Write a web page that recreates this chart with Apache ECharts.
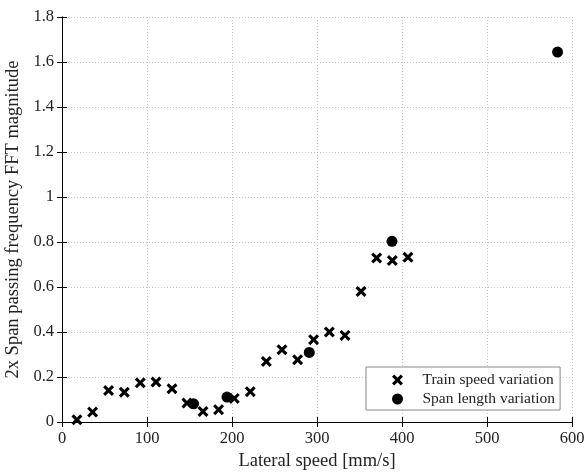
<!DOCTYPE html>
<html>
<head>
<meta charset="utf-8">
<script src="https://cdn.jsdelivr.net/npm/echarts@6/dist/echarts.min.js"></script>
<style>
  html, body { margin: 0; padding: 0; background: #fff; }
  #chart { width: 584px; height: 472px; }
</style>
</head>
<body>
<div id="chart"></div>
<script>
// Train speed variation: [lateral speed mm/s, FFT magnitude]
const trainSpeedX = [17.6, 36, 54.8, 73.3, 92.1, 110.6, 129.4, 147, 165.9, 184.2, 202.7, 221.5,
  240.4, 258.8, 277.2, 296, 314.5, 332.9, 351.8, 370.2, 388.6, 407];
const trainSpeedY = [0.010, 0.044, 0.140, 0.132, 0.174, 0.178, 0.148, 0.084, 0.047, 0.055, 0.105, 0.135,
  0.269, 0.321, 0.277, 0.366, 0.400, 0.385, 0.580, 0.729, 0.718, 0.732];

// Span length variation
const spanLengthX = [154.8, 194.1, 290.9, 388.2, 583];
const spanLengthY = [0.081, 0.111, 0.309, 0.803, 1.644];

const xTicks = [0, 100, 200, 300, 400, 500, 600];
const yTicks = [0, 0.2, 0.4, 0.6, 0.8, 1, 1.2, 1.4, 1.6, 1.8];

const crossPath = 'path://M0,2 L2,0 L5,3 L8,0 L10,2 L7,5 L10,8 L8,10 L5,7 L2,10 L0,8 L3,5 Z';
const font = 'Liberation Serif';

const chart = echarts.init(document.getElementById('chart'));

const gridLine = { show: true, lineStyle: { color: '#c4c4c4', type: [1, 2], width: 1 } };
const axisLine = { show: true, lineStyle: { color: '#000', width: 1 } };
const axisTick = { show: true, inside: true, length: 5, lineStyle: { color: '#000' } };

const option = {
  animation: false,
  textStyle: { fontFamily: font },
  grid: { left: 62, right: 12, top: 17, bottom: 50, show: false, outerBoundsMode: 'none', containLabel: false },
  xAxis: [
    {
      type: 'value', min: xTicks[0], max: xTicks[xTicks.length - 1], interval: 100,
      name: 'Lateral speed [mm/s]', nameLocation: 'middle', nameGap: 27,
      nameTextStyle: { fontFamily: font, fontSize: 18.5, color: '#222' },
      axisLine, axisTick, splitLine: gridLine,
      axisLabel: { fontFamily: font, fontSize: 16.5, color: '#222', margin: 8 }
    },
    {
      type: 'value', position: 'top', min: 0, max: 600, interval: 100,
      axisLine, axisTick, axisLabel: { show: false }, splitLine: { show: false }
    }
  ],
  yAxis: [
    {
      type: 'value', min: yTicks[0], max: yTicks[yTicks.length - 1], interval: 0.2,
      name: '2x Span passing frequency FFT magnitude', nameLocation: 'middle', nameGap: 37,
      nameTextStyle: { fontFamily: font, fontSize: 18.5, color: '#222' },
      axisLine, axisTick, splitLine: gridLine,
      axisLabel: { fontFamily: font, fontSize: 16.5, color: '#222', margin: 8 }
    },
    {
      type: 'value', position: 'right', min: 0, max: 1.8, interval: 0.2,
      axisLine, axisTick, axisLabel: { show: false }, splitLine: { show: false }
    }
  ],
  legend: {
    left: 366, top: 367,
    orient: 'vertical',
    backgroundColor: '#fff',
    borderColor: '#888',
    borderWidth: 1,
    borderRadius: 0,
    padding: [5, 5, 3, 26],
    itemWidth: 40,
    itemHeight: 11,
    itemGap: 3,
    textStyle: { fontFamily: font, fontSize: 15.5, color: '#222' },
    data: ['Train speed variation', 'Span length variation']
  },
  series: [
    {
      name: 'Train speed variation',
      type: 'scatter',
      symbol: crossPath,
      symbolSize: 11,
      itemStyle: { color: '#000', opacity: 1 },
      data: trainSpeedX.map((x, i) => [x, trainSpeedY[i]])
    },
    {
      name: 'Span length variation',
      type: 'scatter',
      symbol: 'circle',
      symbolSize: 11,
      itemStyle: { color: '#000', opacity: 1 },
      data: spanLengthX.map((x, i) => [x, spanLengthY[i]])
    }
  ]
};

chart.setOption(option);
</script>
</body>
</html>
